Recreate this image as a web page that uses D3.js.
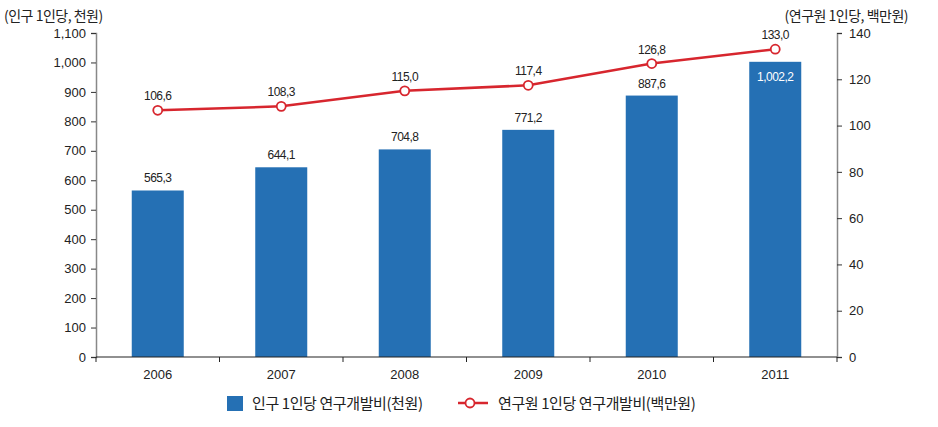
<!DOCTYPE html>
<html><head><meta charset="utf-8">
<script src="https://cdn.jsdelivr.net/npm/d3@7"></script>
<style>body{margin:0;background:#fff;font-family:"Noto Sans CJK KR","Noto Sans",sans-serif;}</style>
</head><body><svg id="c" width="938" height="427"></svg>
<script>
const years = ["2006","2007","2008","2009","2010","2011"];
const perCapita = [565.3, 644.1, 704.8, 771.2, 887.6, 1002.2];
const perResearcher = [106.6, 108.3, 115.0, 117.4, 126.8, 133.0];
const leftTicks = [0,100,200,300,400,500,600,700,800,900,1000,1100];
const rightTicks = [0,20,40,60,80,100,120,140];
const barName = "인구 1인당 연구개발비(천원)";
const lineName = "연구원 1인당 연구개발비(백만원)";
const leftTitle = "(인구 1인당, 천원)";
const rightTitle = "(연구원 1인당, 백만원)";

const svg = d3.select("#c");
const L = 96, R = 837, T = 33, B = 357;
const fmtKo = v => { const s = v.toFixed(1).split("."); return d3.format(",")(+s[0]) + "," + s[1]; };
const blue = "#2570b4", red = "#d7262e";

const x = d3.scaleBand().domain(years).range([L, R]);
const yL = d3.scaleLinear().domain([0, 1100]).range([B, T]);
const yR = d3.scaleLinear().domain([0, 140]).range([B, T]);
const bw = 52;

svg.selectAll("rect.bar").data(years).enter().append("rect")
  .attr("x", d => x(d) + x.bandwidth()/2 - bw/2)
  .attr("y", (d,i) => yL(perCapita[i]))
  .attr("width", bw)
  .attr("height", (d,i) => B - yL(perCapita[i]))
  .attr("fill", blue);

const gL = svg.append("g").attr("transform", `translate(${L},0)`)
  .call(d3.axisLeft(yL).tickValues(leftTicks).tickFormat(d3.format(",")).tickSize(5).tickPadding(5));
const gR = svg.append("g").attr("transform", `translate(${R},0)`)
  .call(d3.axisRight(yR).tickValues(rightTicks).tickSize(5).tickPadding(7));
[gL, gR].forEach(g => {
  g.select(".domain").attr("stroke", "#888").attr("stroke-width", 1.5);
  g.selectAll(".tick line").attr("stroke", "#333");
  g.selectAll("text").attr("font-size", 13).attr("fill", "#222").attr("font-family", "Liberation Sans, Arial, sans-serif");
});

const gX = svg.append("g").attr("transform", `translate(0,${B})`);
gX.append("line").attr("x1", L).attr("x2", R).attr("stroke", "#222").attr("stroke-width", 1.2);
const bounds = years.map(d => x(d)).concat([R]);
gX.selectAll("line.t").data(bounds).enter().append("line")
  .attr("x1", d => d).attr("x2", d => d).attr("y1", 0).attr("y2", 5).attr("stroke", "#222");
gX.selectAll("text").data(years).enter().append("text")
  .attr("x", d => x(d) + x.bandwidth()/2).attr("y", 22)
  .attr("text-anchor", "middle").attr("font-size", 13).attr("fill", "#222")
  .attr("font-family", "Liberation Sans, Arial, sans-serif").text(d => d);

svg.selectAll("text.bl").data(years).enter().append("text")
  .attr("x", d => x(d) + x.bandwidth()/2)
  .attr("y", (d,i) => i === years.length - 1 ? yL(perCapita[i]) + 19 : yL(perCapita[i]) - 8)
  .attr("text-anchor", "middle").attr("font-size", 12).attr("letter-spacing", -0.5)
  .attr("fill", (d,i) => i === years.length - 1 ? "#fff" : "#222")
  .attr("font-family", "Liberation Sans, Arial, sans-serif")
  .text((d,i) => fmtKo(perCapita[i]));

const line = d3.line().x((d,i) => x(years[i]) + x.bandwidth()/2).y(d => yR(d));
svg.append("path").datum(perResearcher).attr("d", line)
  .attr("fill", "none").attr("stroke", red).attr("stroke-width", 2.5);
svg.selectAll("circle.m").data(perResearcher).enter().append("circle")
  .attr("cx", (d,i) => x(years[i]) + x.bandwidth()/2).attr("cy", d => yR(d))
  .attr("r", 4.5).attr("fill", "#fff").attr("stroke", red).attr("stroke-width", 1.8);
svg.selectAll("text.ll").data(perResearcher).enter().append("text")
  .attr("x", (d,i) => x(years[i]) + x.bandwidth()/2).attr("y", d => yR(d) - 10)
  .attr("text-anchor", "middle").attr("font-size", 12).attr("letter-spacing", -0.5).attr("fill", "#222")
  .attr("font-family", "Liberation Sans, Arial, sans-serif")
  .text(d => fmtKo(d));

svg.append("text").attr("x", 4).attr("y", 21).attr("font-size", 14).attr("fill", "#222").attr("letter-spacing", -0.5).text(leftTitle);
svg.append("text").attr("x", 908).attr("y", 21).attr("text-anchor", "end").attr("font-size", 14).attr("fill", "#222").attr("letter-spacing", -0.5).text(rightTitle);

svg.append("rect").attr("x", 227).attr("y", 396).attr("width", 16).attr("height", 15).attr("fill", blue);
svg.append("text").attr("x", 252).attr("y", 409).attr("font-size", 15).attr("fill", "#222").attr("letter-spacing", -0.4).text(barName);
svg.append("line").attr("x1", 458).attr("x2", 488).attr("y1", 403).attr("y2", 403).attr("stroke", red).attr("stroke-width", 2.5);
svg.append("circle").attr("cx", 470).attr("cy", 403).attr("r", 4.5).attr("fill", "#fff").attr("stroke", red).attr("stroke-width", 1.8);
svg.append("text").attr("x", 498).attr("y", 409).attr("font-size", 15).attr("fill", "#222").attr("letter-spacing", -0.4).text(lineName);
</script></body></html>
